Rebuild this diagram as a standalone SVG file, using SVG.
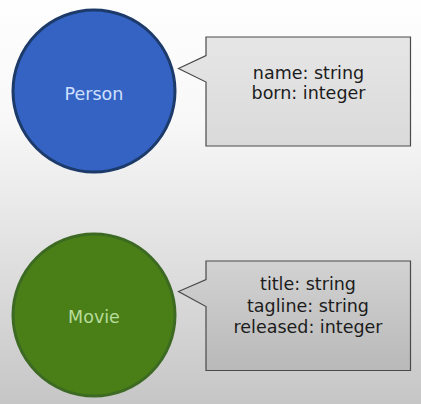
<svg xmlns="http://www.w3.org/2000/svg" width="421" height="404" viewBox="0 0 421 404">
<defs>
<linearGradient id="bg" x1="0" y1="0" x2="0" y2="1">
<stop offset="0" stop-color="#fefefe"/>
<stop offset="0.3" stop-color="#f8f8f8"/>
<stop offset="1" stop-color="#c6c6c6"/>
</linearGradient>
<linearGradient id="box1" x1="0" y1="0" x2="0" y2="1">
<stop offset="0" stop-color="#e6e6e6"/>
<stop offset="1" stop-color="#dadada"/>
</linearGradient>
<linearGradient id="box2" x1="0" y1="0" x2="0" y2="1">
<stop offset="0" stop-color="#d2d2d2"/>
<stop offset="1" stop-color="#b9b9b9"/>
</linearGradient>
<style>
.lbl{font-family:"DejaVu Sans","Open Sans","Liberation Sans",sans-serif;font-size:17.5px;text-anchor:middle}
.prop{fill:#1c1c1c}
.callout{stroke:#4a4a4a;stroke-width:1.2}
</style>
</defs>
<rect width="421" height="404" fill="url(#bg)"/>
<g id="person">
<circle cx="94" cy="91" r="81" fill="#3563c3" stroke="#1c3a6a" stroke-width="3"/>
<text class="lbl" x="94" y="99.5" fill="#cfe0ff">Person</text>
</g>
<g id="person-props">
<path class="callout" d="M206,37 H410.5 V146 H206 V82 L178.5,68.5 L206,55.5 Z" fill="url(#box1)"/>
<text class="lbl prop" x="308.5" y="78.5">name: string</text>
<text class="lbl prop" x="308.5" y="98.5">born: integer</text>
</g>
<g id="movie">
<circle cx="94" cy="315" r="81" fill="#4a7f18" stroke="#3d6a22" stroke-width="3"/>
<text class="lbl" x="94" y="322.5" fill="#b8dc9a">Movie</text>
</g>
<g id="movie-props">
<path class="callout" d="M206,261 H410.5 V370.5 H206 V306.5 L178.5,291.5 L206,279.5 Z" fill="url(#box2)"/>
<text class="lbl prop" x="308" y="290">title: string</text>
<text class="lbl prop" x="308" y="311.5">tagline: string</text>
<text class="lbl prop" x="308" y="333">released: integer</text>
</g>
<g id="connectors"/>
</svg>
